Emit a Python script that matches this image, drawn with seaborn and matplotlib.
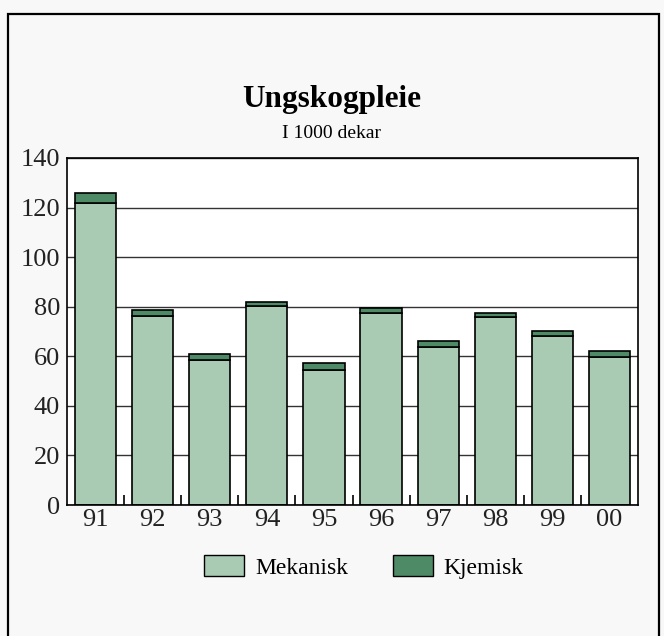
import numpy as np
import matplotlib
matplotlib.use("Agg")
import matplotlib.pyplot as plt
import seaborn as sns
from matplotlib.patches import Patch, Rectangle

# data (1000 dekar)
years = ["91", "92", "93", "94", "95", "96", "97", "98", "99", "00"]
mekanisk = [122, 76.3, 58.5, 80.4, 54.4, 77.5, 63.7, 76, 68.2, 59.8]
kjemisk = [3.8, 2.4, 2.4, 1.6, 2.8, 2.0, 2.4, 1.6, 2.0, 2.3]

col_mek = "#a9cbb4"
col_kje = "#4f8a66"

sns.set_style("white")
plt.rcParams['font.family'] = ['Liberation Serif', 'DejaVu Serif']
plt.rcParams['text.color'] = 'black'
plt.rcParams['xtick.color'] = 'black'
plt.rcParams['ytick.color'] = 'black'

fig = plt.figure(figsize=(6.64, 6.36), dpi=100)
fig.patch.set_facecolor("#f7f8f7")

# page frame
fig.add_artist(Rectangle((8 / 664, -0.05), (659 - 8) / 664, 1.05 - 14 / 636,
                         transform=fig.transFigure, fill=False,
                         edgecolor="black", linewidth=1.6))

ax = fig.add_axes([67 / 664, 1 - 505 / 636, (638 - 67) / 664, (505 - 158) / 636])
ax.set_facecolor("white")

sns.barplot(x=years, y=mekanisk, color=col_mek, edgecolor="black",
            linewidth=1.2, width=0.72, saturation=1, ax=ax, zorder=2)
sns.barplot(x=years, y=kjemisk, bottom=mekanisk, color=col_kje, edgecolor="black",
            linewidth=1.2, width=0.72, saturation=1, ax=ax, zorder=2)

ax.set_xlim(-0.5, 9.5)
ax.set_ylim(0, 140)
ax.set_yticks(np.arange(0, 141, 20))
ax.yaxis.grid(True, color="#333333", linewidth=1.0, zorder=0)
ax.set_axisbelow(True)
for s in ax.spines.values():
    s.set_color("black")
    s.set_linewidth(1.2)

ax.tick_params(axis="y", labelsize=19, length=0, pad=5, labelcolor="#222222")
ax.tick_params(axis="x", labelsize=19, length=0, pad=3, labelcolor="#222222")
ax.set_xticks(np.arange(0.5, 9.5, 1), minor=True)
ax.tick_params(axis="x", which="minor", bottom=True, direction="in",
               length=7, width=1.2, color="black")

fig.text(0.5, 1 - 99 / 636, "Ungskogpleie", ha="center", va="center",
         fontsize=22.5, fontweight="bold")
fig.text(0.5, 1 - 133 / 636, "I 1000 dekar", ha="center", va="center", fontsize=14)

handles = [Patch(facecolor=col_mek, edgecolor="black", label="Mekanisk"),
           Patch(facecolor=col_kje, edgecolor="black", label="Kjemisk")]
fig.legend(handles=handles, loc="center", bbox_to_anchor=(364 / 664, 1 - 567 / 636),
           ncol=2, frameon=False, fontsize=17, handlelength=1.7, handleheight=0.95,
           columnspacing=1.9, handletextpad=0.45)

fig.savefig("out.png", dpi=100, facecolor=fig.get_facecolor())
